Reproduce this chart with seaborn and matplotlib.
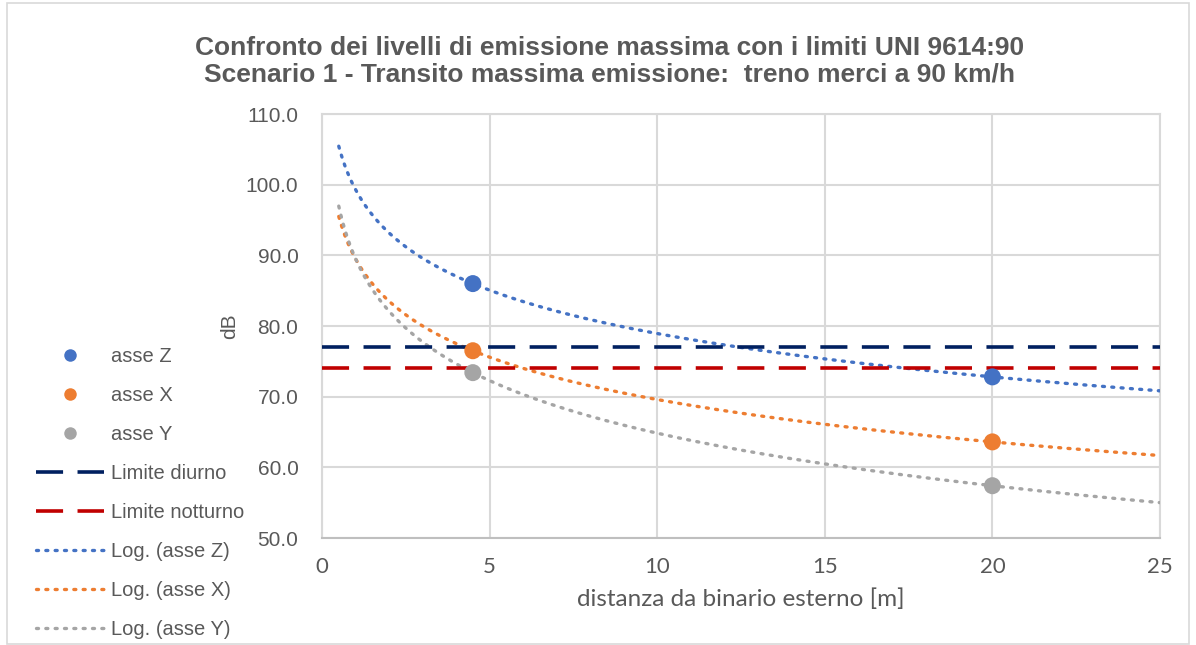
import numpy as np
import pandas as pd
import matplotlib
matplotlib.use("Agg")
import matplotlib.pyplot as plt
from matplotlib.lines import Line2D
from matplotlib.patches import Rectangle
import seaborn as sns

# Measured levels at the two distances from the outer track
distanze = [4.5, 20.0]
asse_z = [86.0, 72.8]
asse_x = [76.5, 63.6]
asse_y = [73.4, 57.4]

# UNI 9614:90 limits
limite_diurno = 77.0
limite_notturno = 74.0

# Range over which the logarithmic trend lines are drawn
trend_start, trend_end = 0.5, 25.0

x_ticks = [0, 5, 10, 15, 20, 25]
y_ticks = [50, 60, 70, 80, 90, 100, 110]

col_z, col_x, col_y = "#4472C4", "#ED7D31", "#A5A5A5"
col_diurno, col_notturno = "#002060", "#C00000"
txt_col = "#595959"

sns.set_theme(style="white")
plt.rcParams["font.family"] = ["Liberation Sans", "DejaVu Sans"]

fig = plt.figure(figsize=(11.96, 6.45), dpi=100)
ax = fig.add_axes([322 / 1196, 1 - 538 / 645, (1160 - 322) / 1196, (538 - 114) / 645])

series = [("asse Z", asse_z, col_z), ("asse X", asse_x, col_x), ("asse Y", asse_y, col_y)]

# Logarithmic trend lines fitted to each series: y = a*ln(x) + b
xs = np.linspace(trend_start, trend_end, 400)
for name, vals, col in series:
    a, b = np.polyfit(np.log(distanze), vals, 1)
    df_t = pd.DataFrame({"x": xs, "y": a * np.log(xs) + b})
    sns.lineplot(data=df_t, x="x", y="y", ax=ax, color=col, lw=2.4,
                 linestyle=(0, (0.6, 2.2)), dash_capstyle="round", zorder=3)

# Limit lines
for val, col in [(limite_diurno, col_diurno), (limite_notturno, col_notturno)]:
    df_l = pd.DataFrame({"x": [0, 25], "y": [val, val]})
    sns.lineplot(data=df_l, x="x", y="y", ax=ax, color=col, lw=2.6,
                 linestyle=(0, (7.5, 4)), zorder=4)

# Measured points
for name, vals, col in series:
    df_p = pd.DataFrame({"x": distanze, "y": vals})
    sns.scatterplot(data=df_p, x="x", y="y", ax=ax, color=col, s=150,
                    edgecolor="none", zorder=5)

ax.set_xlim(0, 25)
ax.set_ylim(50, 110)
ax.set_xticks(x_ticks)
ax.set_yticks(y_ticks)
ax.set_xticklabels([str(t) for t in x_ticks], fontsize=16, color=txt_col,
                   family=["Lato", "DejaVu Sans"])
ax.set_yticklabels([f"{t:.1f}" for t in y_ticks], fontsize=15, color=txt_col)
ax.tick_params(axis="both", length=0)
ax.tick_params(axis="x", pad=14)
ax.tick_params(axis="y", pad=17)
ax.grid(True, color="#D9D9D9", lw=1.5)
for sp in ax.spines.values():
    sp.set_color("#D9D9D9")
    sp.set_linewidth(1.5)
ax.spines["bottom"].set_color("#BFBFBF")
ax.set_xlabel("distanza da binario esterno [m]", fontsize=17.5, color=txt_col,
              labelpad=8, family=["Lato", "DejaVu Sans"])
ax.set_ylabel("dB", fontsize=15, color=txt_col, labelpad=5)

fig.suptitle("Confronto dei livelli di emissione massima con i limiti UNI 9614:90\n"
             "Scenario 1 - Transito massima emissione:  treno merci a 90 km/h",
             x=0.51, y=0.944, fontsize=19, fontweight="bold", color=txt_col,
             linespacing=1.15)

# Legend
handles = [
    Line2D([], [], ls="none", marker="o", ms=9, color=col_z, mec="none"),
    Line2D([], [], ls="none", marker="o", ms=9, color=col_x, mec="none"),
    Line2D([], [], ls="none", marker="o", ms=9, color=col_y, mec="none"),
    Line2D([], [], color=col_diurno, lw=2.6, ls=(0, (7.5, 4))),
    Line2D([], [], color=col_notturno, lw=2.6, ls=(0, (7.5, 4))),
    Line2D([], [], color=col_z, lw=2.4, ls=(0, (0.6, 2.2)), dash_capstyle="round"),
    Line2D([], [], color=col_x, lw=2.4, ls=(0, (0.6, 2.2)), dash_capstyle="round"),
    Line2D([], [], color=col_y, lw=2.4, ls=(0, (0.6, 2.2)), dash_capstyle="round"),
]
labels = ["asse Z", "asse X", "asse Y", "Limite diurno", "Limite notturno",
          "Log. (asse Z)", "Log. (asse X)", "Log. (asse Y)"]
fig.legend(handles, labels, loc="upper left", bbox_to_anchor=(36 / 1196, 1 - 347 / 645),
           frameon=False, fontsize=14.5, labelcolor=txt_col, handlelength=3.4,
           handletextpad=0.3, labelspacing=0.995, borderaxespad=0, borderpad=0)

# Chart area border
fig.patches.append(Rectangle((7 / 1196, 0.002), 1182 / 1196, 0.994, transform=fig.transFigure,
                             fill=False, edgecolor="#D9D9D9", lw=1.2))

fig.savefig("out.png", dpi=100, facecolor="white")
